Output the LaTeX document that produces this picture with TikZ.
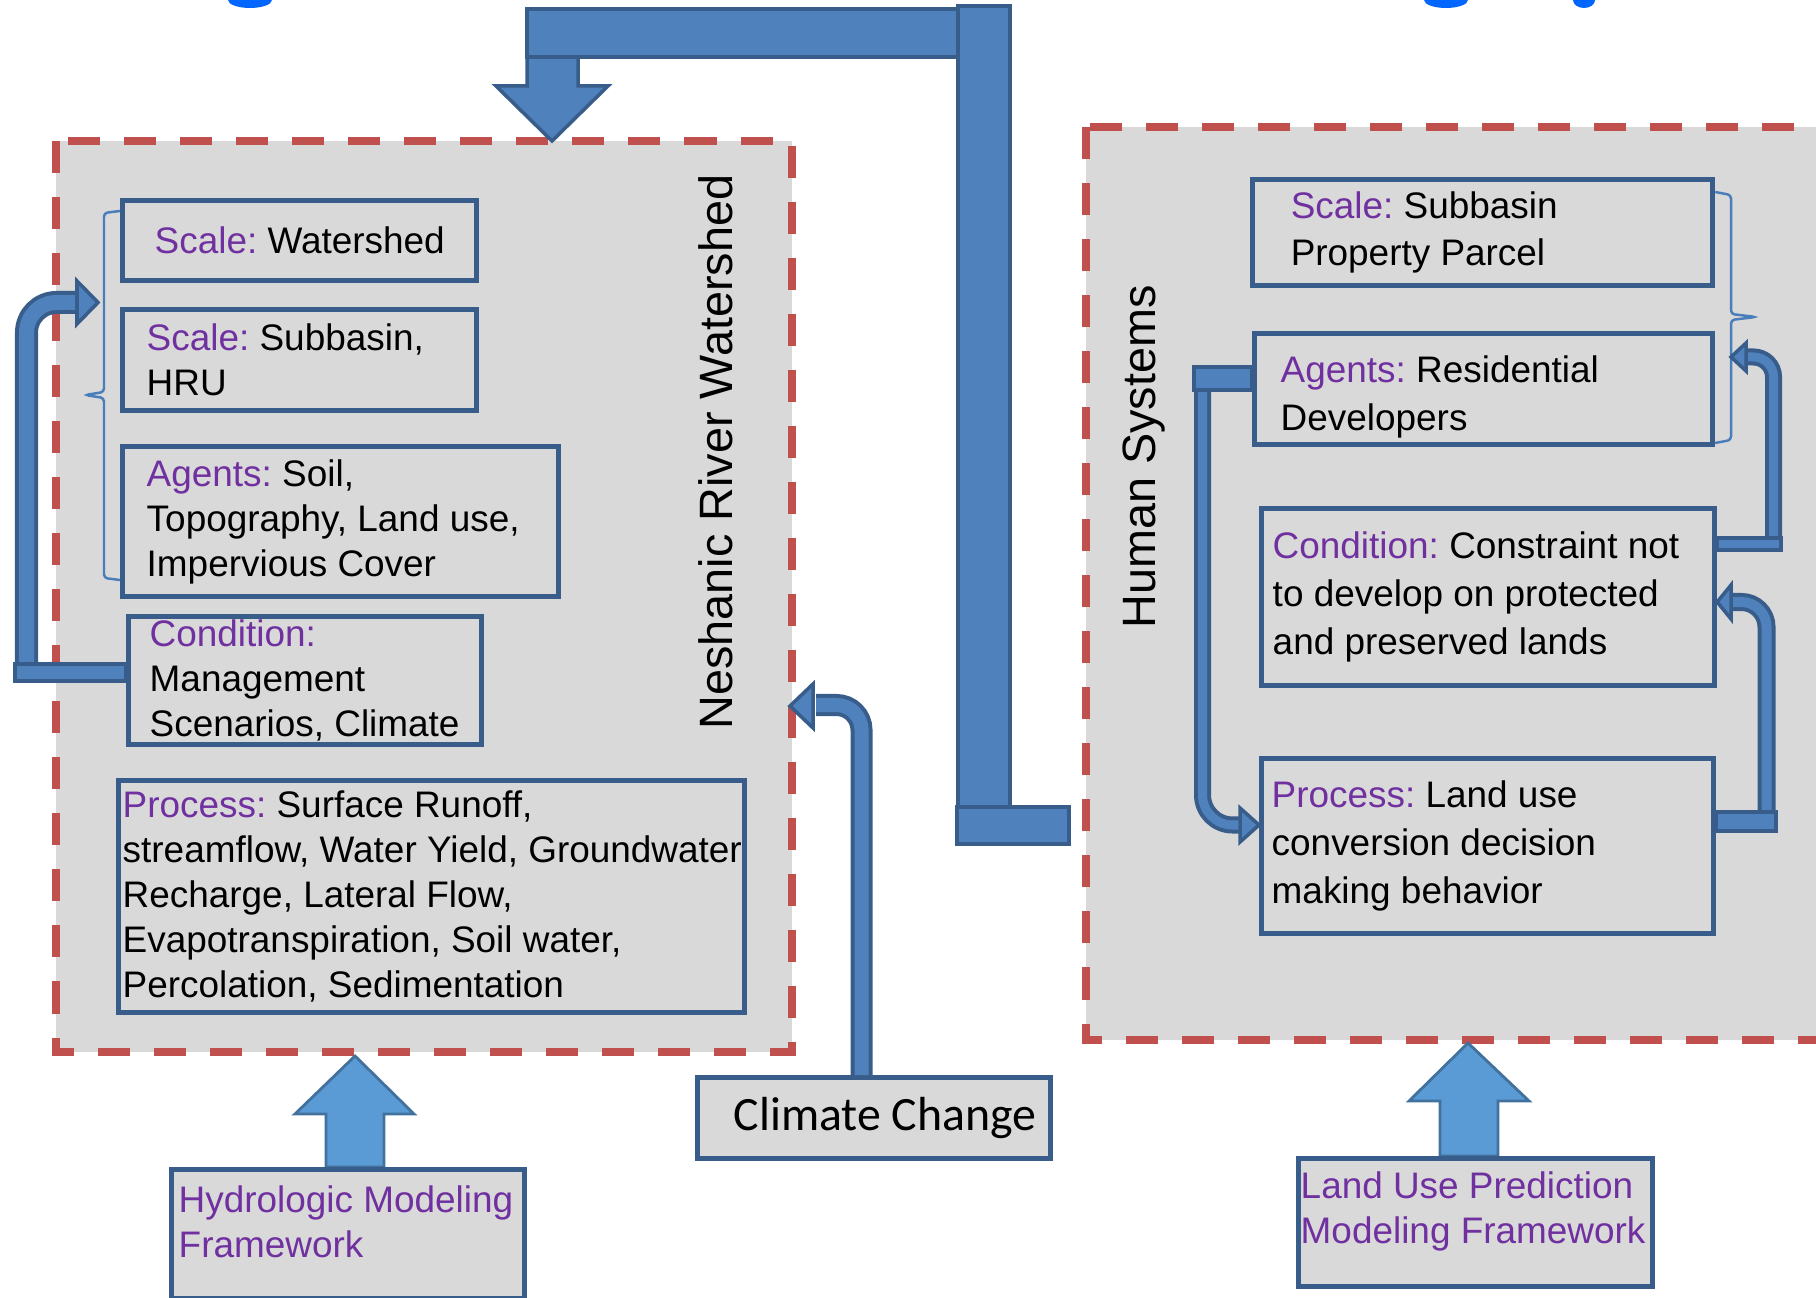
\documentclass[tikz,border=0pt]{standalone}
\usepackage{fontspec}
\setmainfont{Liberation Sans}
\newfontfamily\calibrifont{Carlito}
\usetikzlibrary{positioning}
\frenchspacing

\definecolor{boxfill}{HTML}{D9D9D9}
\definecolor{boxline}{HTML}{385D8A}
\definecolor{dashred}{HTML}{C0504D}
\definecolor{arrowfill}{HTML}{4F81BD}
\definecolor{arrowline}{HTML}{385D8A}
\definecolor{upfill}{HTML}{5B9BD5}
\definecolor{upline}{HTML}{41719C}
\definecolor{labpurple}{HTML}{7030A0}
\definecolor{bracecol}{HTML}{4A7EBB}
\definecolor{titleblue}{HTML}{0066FF}

\newcommand{\lab}[1]{\textcolor{labpurple}{#1}}

\tikzset{
  system/.style={fill=boxfill, draw=dashred, line width=2.3pt, dash pattern=on 3.2mm off 2.4mm},
  tbox/.style={draw=boxline, fill=boxfill, line width=1.4pt, anchor=north west, inner sep=0pt},
  tlabel/.style={anchor=west, align=left, inner sep=0pt, font={\fontsize{10.5}{12.8}\selectfont}},
  rlabel/.style={tlabel, font={\fontsize{10.5}{13.6}\selectfont}},
  pipeout/.style={draw=arrowline, line width=#1, rounded corners=3mm},
  pipein/.style={draw=arrowfill, line width=#1, rounded corners=3mm},
  blockpart/.style={fill=arrowfill, draw=arrowline, line width=1pt},
  uparrow/.style={fill=upfill, draw=upline, line width=0.8pt},
  brace/.style={draw=bracecol, line width=0.7pt, rounded corners=1pt},
}

\begin{document}
\begin{tikzpicture}[x=0.01cm, y=-0.01cm]
		\useasboundingbox (0,0) rectangle (1816,1298);
		% cut title
		\fill[titleblue] (250,0) ellipse (22 and 8);
		\fill[titleblue] (1446,0) ellipse (22 and 8);
		\fill[titleblue] (1584,0) ellipse (11 and 8);
		% systems
		\draw[system] (56,141) rectangle (792,1052);
		\draw[system] (1086,127) rectangle (1900,1040);
		\node[rotate=90, anchor=base, inner sep=0pt, font={\fontsize{13.3}{16}\selectfont}] (nrw) at (732,452) {Neshanic River Watershed};
		\node[rotate=90, anchor=base, inner sep=0pt, font={\fontsize{13.3}{16}\selectfont}] (hsys) at (1155,457) {Human Systems};
		% framework arrows
		\filldraw[uparrow] (326,1167) -- (326,1114) -- (295,1114) -- (355,1056) -- (414,1114) -- (384,1114) -- (384,1167) -- cycle;
		\filldraw[uparrow] (1440,1156) -- (1440,1101) -- (1409,1101) -- (1468,1043) -- (1529,1101) -- (1498,1101) -- (1498,1156) -- cycle;
		% watershed boxes
		\node[tbox, minimum width=3.54cm, minimum height=0.80cm, label={[tlabel, xshift=3.4mm]west:{\lab{Scale:} Watershed}}] (lscale) at (120,198) {};
		\node[tbox, minimum width=3.54cm, minimum height=1.01cm, label={[tlabel, xshift=2.6mm]west:{\lab{Scale:} Subbasin,\\HRU}}] (lsub) at (120,307) {};
		\node[tbox, minimum width=4.36cm, minimum height=1.50cm, label={[tlabel, xshift=2.6mm]west:{\lab{Agents:} Soil,\\Topography, Land use,\\Impervious Cover}}] (lagent) at (120,444) {};
		\node[tbox, minimum width=3.53cm, minimum height=1.28cm, label={[tlabel, xshift=2.3mm]west:{\lab{Condition:}\\Management\\Scenarios, Climate}}] (lcond) at (126,614) {};
		\node[tbox, minimum width=6.26cm, minimum height=2.32cm, label={[tlabel, xshift=0.6mm]west:{\lab{Process:} Surface Runoff,\\streamflow, Water Yield, Groundwater\\Recharge, Lateral Flow,\\Evapotranspiration, Soil water,\\Percolation, Sedimentation}}] (lproc) at (116,778) {};
		% human boxes
		\node[tbox, minimum width=4.60cm, minimum height=1.06cm, label={[rlabel, xshift=4.0mm]west:{\lab{Scale:} Subbasin\\Property Parcel}}] (rscale) at (1250,177) {};
		\node[tbox, minimum width=4.58cm, minimum height=1.11cm, label={[rlabel, xshift=2.8mm, yshift=-0.8mm]west:{\lab{Agents:} Residential\\Developers}}] (ragent) at (1252,331) {};
		\node[tbox, minimum width=4.53cm, minimum height=1.77cm, label={[rlabel, xshift=1.3mm]west:{\lab{Condition:} Constraint not\\to develop on protected\\and preserved lands}}] (rcond) at (1259,506) {};
		\node[tbox, minimum width=4.52cm, minimum height=1.75cm, label={[rlabel, xshift=1.2mm]west:{\lab{Process:} Land use\\conversion decision\\making behavior}}] (rproc) at (1259,756) {};
		% bottom boxes
		\node[tbox, minimum width=3.53cm, minimum height=0.81cm, label={[tlabel, xshift=3.8mm, font={\calibrifont\fontsize{13.6}{16}\selectfont}]west:{Climate Change}}] (clim) at (695,1075) {};
		\node[tbox, minimum width=3.53cm, minimum height=1.29cm, label={[tlabel, anchor=north west, xshift=0.9mm, yshift=-1.8mm, text=labpurple]north west:{Hydrologic Modeling\\Framework}}] (hydro) at (169,1167) {};
		\node[tbox, minimum width=3.54cm, minimum height=1.28cm, label={[tlabel, anchor=north west, xshift=0.4mm, yshift=-1.5mm, text=labpurple]north west:{Land Use Prediction\\Modeling Framework}}] (land) at (1296,1156) {};
		% braces
		\draw[brace] (lscale.north west |- 0,211) -- (104,213) -- (104,392) -- (85,395) -- (104,398) -- (104,578) -- (lagent.south west |- 0,580);
		\draw[brace] (rscale.north east |- 0,192) -- (1731,195) -- (1731,314) -- (1756,317) -- (1731,320) -- (1731,440) -- (ragent.south east |- 0,443);
		% human systems to watershed
		\filldraw[blockpart] (527,50) -- (578,50) -- (578,86) -- (608,86) -- (552,141) -- (496,86) -- (527,86) -- cycle;
		\filldraw[blockpart] (527,9) rectangle (960,57);
		\filldraw[blockpart] (958,6) rectangle (1010,807);
		\filldraw[blockpart] (957,807) rectangle (1069,844);
		% watershed loop
		\draw[pipeout=2.3mm] (26.5,670) -- (26.5,302.5) -- (80,302.5);
		\draw[pipein=1.5mm] (26.5,670) -- (26.5,302.5) -- (80,302.5);
		\filldraw[blockpart] (77,281) -- (98,302.5) -- (77,324) -- cycle;
		\filldraw[blockpart] (15,664) rectangle (lcond.west |- 0,681);
		% climate change
		\draw[pipeout=2.2mm, rounded corners=2.5mm] (clim.north -| 861.5,0) -- (861.5,705) -- (816,705);
		\draw[pipein=1.4mm, rounded corners=2.5mm] (clim.north -| 861.5,0) -- (861.5,705) -- (816,705);
		\filldraw[blockpart] (813,684) -- (790,706) -- (813,728) -- cycle;
		% human loops
		\draw[pipeout=1.7mm] (1202.5,385) -- (1202.5,825) -- (1243,825);
		\draw[pipein=0.9mm] (1202.5,385) -- (1202.5,825) -- (1243,825);
		\filldraw[blockpart] (1240,808) -- (rproc.west |- 0,825) -- (1240,842) -- cycle;
		\filldraw[blockpart] (1194,367) rectangle (ragent.west |- 0,390);
		\draw[pipeout=1.7mm, rounded corners=2mm] (1773.5,545) -- (1773.5,357) -- (1748,357);
		\draw[pipein=0.9mm, rounded corners=2mm] (1773.5,545) -- (1773.5,357) -- (1748,357);
		\filldraw[blockpart] (1746,343) -- (1731,357) -- (1746,371) -- cycle;
		\filldraw[blockpart] (rcond.east |- 0,538) rectangle (1781,550);
		\draw[pipeout=1.8mm, rounded corners=2.5mm] (1766.5,820) -- (1766.5,602) -- (1733,602);
		\draw[pipein=1.0mm, rounded corners=2.5mm] (1766.5,820) -- (1766.5,602) -- (1733,602);
		\filldraw[blockpart] (1731,585) -- (rcond.east |- 0,602) -- (1731,619) -- cycle;
		\filldraw[blockpart] (rproc.east |- 0,812) rectangle (1776,831);
\end{tikzpicture}
\end{document}
